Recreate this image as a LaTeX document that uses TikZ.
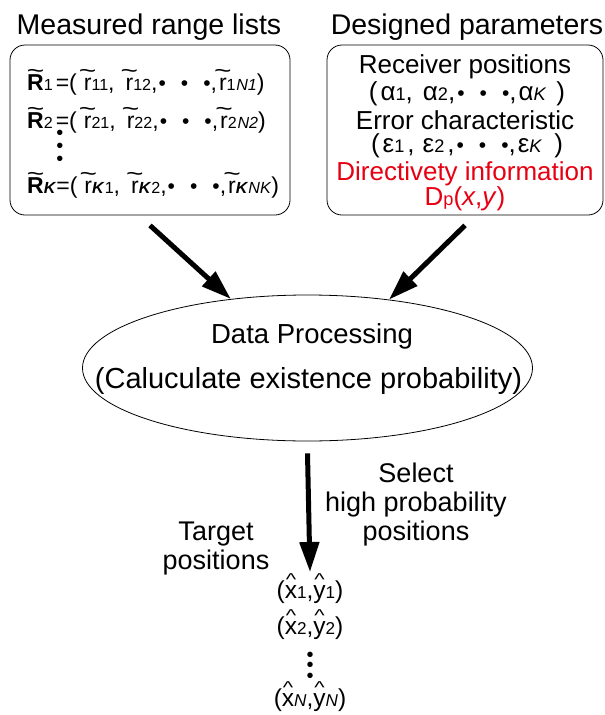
\documentclass[tikz,border=0pt]{standalone}
\usepackage{fontspec}
\setmainfont{Liberation Sans}
\usetikzlibrary{arrows.meta,positioning,shapes.geometric}
\definecolor{Red}{HTML}{E60012}
% accents and small pieces of the formulas
\newcommand{\tld}[1]{\ooalign{#1\cr\hidewidth\raisebox{0.48em}{\scalebox{1.3}[1]{\textasciitilde}}\hidewidth\cr}}
\newcommand{\hatc}[1]{\ooalign{#1\cr\hidewidth\raisebox{0.52em}{\scalebox{0.9}[0.7]{\textasciicircum}}\hidewidth\cr}}
\newcommand{\sbs}[1]{\scalebox{0.7}{#1}}
\newcommand{\dts}{{\fontsize{21}{21}\selectfont•\hspace{15pt}•\hspace{15pt}•}}

\begin{document}
\begin{tikzpicture}[x=1pt,y=-1pt,font=\fontsize{27}{29}\selectfont,
    every node/.style={inner sep=0pt},
    panel/.style={draw,rounded corners=15pt,line width=0.8pt,minimum height=170pt},
    heading/.style={anchor=base,font=\fontsize{28.5}{31}\selectfont},
    paneltext/.style={anchor=base,font=\fontsize{26}{28}\selectfont},
    listtext/.style={anchor=base west,font=\fontsize{23}{25}\selectfont},
    outtext/.style={anchor=base,font=\fontsize{24.5}{26}\selectfont},
    vdotstext/.style={align=center,font=\fontsize{20}{#1}\selectfont},
    bigarrow/.style={line width=5pt,-{Triangle[length=30pt,width=19pt]}}]
  \useasboundingbox (0,0) rectangle (605,715);
  % input panels
  \node[heading] (mtitle) at (149,34) {Measured range lists};
  \node[heading] (dtitle) at (467,34) {Designed parameters};
  \node[panel,minimum width=280pt] (mpanel) at (150,130) {};
  \node[panel,minimum width=276pt] (dpanel) at (465,130) {};
  % measured ranges
  \node[listtext] (r1) at (27,90)
    {\tld{\textbf{R}}\sbs{1}\hspace{3pt}=(\hspace{7pt}\tld{r}\sbs{11},\hspace{11pt}\tld{r}\sbs{12},\hspace{1pt}\dts,\hspace{2pt}\tld{r}\sbs{1\hspace{1pt}\textit{N1}})};
  \node[listtext] (r2) at (27,128)
    {\tld{\textbf{R}}\sbs{2}\hspace{3pt}=(\hspace{7pt}\tld{r}\sbs{21},\hspace{11pt}\tld{r}\sbs{22},\hspace{1pt}\dts,\hspace{2pt}\tld{r}\sbs{2\hspace{1pt}\textit{N2}})};
  \node[vdotstext=13] (rdots) at (60,148) {•\\•\\•};
  \node[listtext] (rk) at (27,193)
    {\tld{\textbf{R}}\sbs{\textbf{\textit{K}}}=(\hspace{7pt}\tld{r}\sbs{\textbf{\textit{K}}1},\hspace{11pt}\tld{r}\sbs{\textbf{\textit{K}}2},\hspace{1pt}\dts,\hspace{2pt}\tld{r}\sbs{\textbf{\textit{K}}\textit{NK}})};
  % designed parameters
  \node[paneltext] (recv) at (465,73) {Receiver positions};
  \node[paneltext] (alpha) at (467,100)
    {(\hspace{3pt}α\sbs{1},\hspace{10pt}α\sbs{2},\hspace{2pt}\dts,\hspace{2pt}α\sbs{\textit{K}}\hspace{10pt})};
  \node[paneltext] (err) at (465,129) {Error characteristic};
  \node[paneltext] (eps) at (467,152)
    {(\hspace{3pt}ε\sbs{1}\hspace{3pt},\hspace{8pt}ε\sbs{2}\hspace{3pt},\hspace{2pt}\dts,\hspace{2pt}ε\sbs{\textit{K}}\hspace{12pt})};
  \node[paneltext,text=Red] (dir) at (465,180) {Directivety information};
  \node[paneltext,text=Red] (dp) at (465,205) {D\sbs{p}(\textit{x},\textit{y})};
  % processing
  \node[draw,ellipse,line width=0.8pt,minimum width=450pt,minimum height=146pt] (proc) at (307.5,368) {};
  \node[anchor=base,font=\fontsize{27.5}{29}\selectfont] (ptop) at (312,343) {Data Processing};
  \node[anchor=base,font=\fontsize{29}{31}\selectfont] (pbot) at (308.5,388) {(Caluculate existence probability)};
  \draw[bigarrow] ([yshift=-10pt]mpanel.south) -- (proc.138);
  \draw[bigarrow] ([yshift=-10pt]dpanel.south) -- (proc.40);
  % estimated targets
  \foreach \i/\yy in {1/598,2/634}
    \node[outtext] (xy\i) at (310,\yy)
      {(\hatc{x}\sbs{\i},\hatc{y}\sbs{\i})};
  \node[vdotstext=10.5] (xydots) at (310,667) {•\\•\\•};
  \node[outtext] (xyN) at (310,706)
    {(\hatc{x}\sbs{\textit{N}},\hatc{y}\sbs{\textit{N}})};
  \draw[bigarrow] ([yshift=-12pt]proc.south) -- ([yshift=8pt]xy1.north);
  \node[align=center] (select) at (416,505) {Select\\high probability\\positions};
  \node[align=center] (target) at (216,549) {Target\\positions};
\end{tikzpicture}
\end{document}
